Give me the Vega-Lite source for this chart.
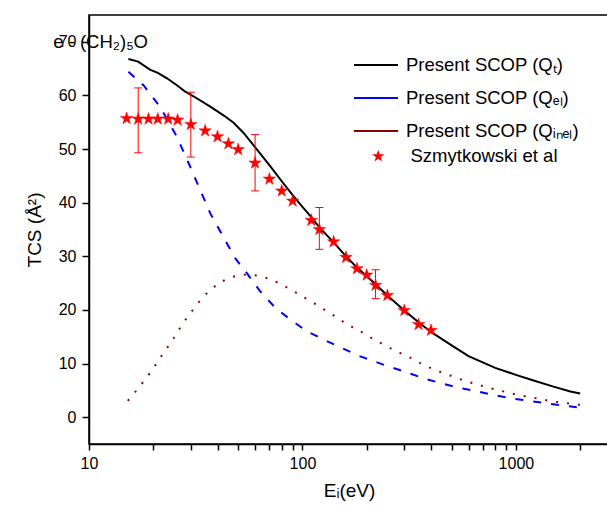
{
  "$schema": "https://vega.github.io/schema/vega-lite/v6.json",
  "width": 520,
  "height": 429,
  "autosize": "none",
  "padding": {"left": 89, "top": 15, "right": 0, "bottom": 63},
  "background": "white",
  "config": {
    "font": "Liberation Sans",
    "view": {"stroke": "#000000", "strokeWidth": 1.5},
    "axis": {"grid": false, "domainColor": "#000000", "tickColor": "#000000", "labelColor": "#000000", "titleColor": "#000000", "domainWidth": 1.5, "tickWidth": 1.5, "labelFontSize": 16, "titleFontSize": 19, "titleFontWeight": "normal"},
    "legend": {"labelColor": "#000000"}
  },
  "title": {"text": "e - (CH₂)₅O", "anchor": "start", "offset": -36, "dx": 28, "fontSize": 18.5, "fontWeight": "normal", "color": "#000000"},
  "layer": [
    {
      "data": {"values": [
        {"energy": 15.3, "cs": 66.8}, {"energy": 17, "cs": 66.3}, {"energy": 19.3, "cs": 64.8}, {"energy": 21, "cs": 64.2},
        {"energy": 23.2, "cs": 63.2}, {"energy": 26, "cs": 61.8}, {"energy": 28, "cs": 60.8}, {"energy": 31, "cs": 59.8},
        {"energy": 37, "cs": 57.9}, {"energy": 43, "cs": 56.2}, {"energy": 47.6, "cs": 54.9}, {"energy": 53, "cs": 53.0},
        {"energy": 61, "cs": 50.0}, {"energy": 70, "cs": 47.0}, {"energy": 80, "cs": 44.0}, {"energy": 90, "cs": 41.4},
        {"energy": 100, "cs": 39.2}, {"energy": 110, "cs": 37.3}, {"energy": 120, "cs": 35.4}, {"energy": 140, "cs": 32.6},
        {"energy": 160, "cs": 30.0}, {"energy": 180, "cs": 27.9}, {"energy": 200, "cs": 26.3}, {"energy": 220, "cs": 24.8},
        {"energy": 250, "cs": 22.7}, {"energy": 300, "cs": 19.9}, {"energy": 350, "cs": 17.7}, {"energy": 400, "cs": 15.9},
        {"energy": 500, "cs": 13.4}, {"energy": 600, "cs": 11.4}, {"energy": 800, "cs": 9.2}, {"energy": 1000, "cs": 7.9},
        {"energy": 1200, "cs": 6.9}, {"energy": 1500, "cs": 5.7}, {"energy": 1800, "cs": 4.8}, {"energy": 2000, "cs": 4.4}
      ]},
      "mark": {"type": "line", "strokeWidth": 2},
      "encoding": {
        "x": {
          "field": "energy", "type": "quantitative",
          "title": "Eᵢ(eV)",
          "scale": {"type": "log", "domain": [10, 2730], "nice": false},
          "axis": {
            "values": [10, 20, 30, 40, 50, 60, 70, 80, 90, 100, 200, 300, 400, 500, 600, 700, 800, 900, 1000, 2000],
            "format": "d",
            "labelExpr": "datum.value == 10 || datum.value == 100 || datum.value == 1000 ? datum.label : ''",
            "tickSize": 6, "labelPadding": 5, "labelFlush": false, "labelOverlap": false, "titlePadding": 10
          }
        },
        "y": {
          "field": "cs", "type": "quantitative",
          "title": "TCS (Å²)",
          "scale": {"domain": [-5, 75], "nice": false, "zero": false},
          "axis": {"values": [0, 10, 20, 30, 40, 50, 60, 70], "tickSize": 7, "labelPadding": 6, "titlePadding": 14}
        },
        "color": {
          "datum": "Present SCOP (Qₜ)",
          "scale": {"domain": ["Present SCOP (Qₜ)", "Present SCOP (Qₑₗ)", "Present SCOP (Qᵢₙₑₗ)"], "range": ["#000000", "#0000ff", "#8b0000"]},
          "legend": {"orient": "none", "legendX": 264, "legendY": 27, "title": null, "symbolType": "stroke", "symbolSize": 1936, "symbolStrokeWidth": 2, "labelFontSize": 18.5, "labelOffset": 7, "rowPadding": -14, "padding": 0, "labelLimit": 300}
        }
      }
    },
    {
      "data": {"values": [
        {"energy": 15.3, "cs": 64.4}, {"energy": 18, "cs": 61.9}, {"energy": 21.5, "cs": 57.9}, {"energy": 25.8, "cs": 52.3},
        {"energy": 29.8, "cs": 46.7}, {"energy": 33, "cs": 42.6}, {"energy": 37, "cs": 38.0}, {"energy": 44.3, "cs": 32.4},
        {"energy": 48.5, "cs": 29.6}, {"energy": 55, "cs": 26.8}, {"energy": 63, "cs": 23.6}, {"energy": 75, "cs": 20.3},
        {"energy": 90, "cs": 17.9}, {"energy": 105, "cs": 16.0}, {"energy": 130, "cs": 14.2}, {"energy": 155, "cs": 12.8},
        {"energy": 185, "cs": 11.4}, {"energy": 245, "cs": 9.65}, {"energy": 300, "cs": 8.5}, {"energy": 363, "cs": 7.35},
        {"energy": 443, "cs": 6.35}, {"energy": 541, "cs": 5.5}, {"energy": 660, "cs": 4.8}, {"energy": 804, "cs": 4.05},
        {"energy": 982, "cs": 3.4}, {"energy": 1180, "cs": 3.0}, {"energy": 1435, "cs": 2.5}, {"energy": 1750, "cs": 2.05},
        {"energy": 2000, "cs": 1.8}
      ]},
      "mark": {"type": "line", "strokeWidth": 2, "strokeDash": [8, 10]},
      "encoding": {
        "x": {"field": "energy", "type": "quantitative", "title": "Eᵢ(eV)"},
        "y": {"field": "cs", "type": "quantitative", "title": "TCS (Å²)"},
        "color": {"datum": "Present SCOP (Qₑₗ)"}
      }
    },
    {
      "data": {"values": [
        {"energy": 15.2, "cs": 3.06}, {"energy": 16.7, "cs": 5.0}, {"energy": 18.4, "cs": 7.1}, {"energy": 20, "cs": 9.1},
        {"energy": 21.6, "cs": 11.1}, {"energy": 23.4, "cs": 13.1}, {"energy": 25.3, "cs": 15.1}, {"energy": 27.2, "cs": 17.2},
        {"energy": 29.6, "cs": 19.2}, {"energy": 32.3, "cs": 21.2}, {"energy": 35.8, "cs": 23.2}, {"energy": 40.2, "cs": 24.9},
        {"energy": 45.3, "cs": 26.0}, {"energy": 50.8, "cs": 26.5}, {"energy": 57, "cs": 26.6}, {"energy": 64.2, "cs": 26.3},
        {"energy": 72.1, "cs": 25.6}, {"energy": 81.2, "cs": 24.6}, {"energy": 91, "cs": 23.5}, {"energy": 102, "cs": 22.3},
        {"energy": 115, "cs": 21.1}, {"energy": 129.7, "cs": 19.8}, {"energy": 145, "cs": 18.6}, {"energy": 163, "cs": 17.2},
        {"energy": 184, "cs": 16.2}, {"energy": 207, "cs": 14.9}, {"energy": 233, "cs": 13.8}, {"energy": 260, "cs": 12.8},
        {"energy": 293, "cs": 11.8}, {"energy": 328, "cs": 10.9}, {"energy": 367, "cs": 9.8}, {"energy": 412, "cs": 8.9},
        {"energy": 462, "cs": 8.2}, {"energy": 520, "cs": 7.4}, {"energy": 586, "cs": 6.7}, {"energy": 660, "cs": 6.1},
        {"energy": 740, "cs": 5.5}, {"energy": 835, "cs": 5.0}, {"energy": 935, "cs": 4.5}, {"energy": 1054, "cs": 4.05},
        {"energy": 1183, "cs": 3.7}, {"energy": 1332, "cs": 3.3}, {"energy": 1498, "cs": 2.9}, {"energy": 1690, "cs": 2.7},
        {"energy": 1880, "cs": 2.4}, {"energy": 2000, "cs": 2.3}
      ]},
      "mark": {"type": "line", "strokeWidth": 2, "strokeDash": [2, 9]},
      "encoding": {
        "x": {"field": "energy", "type": "quantitative", "title": "Eᵢ(eV)"},
        "y": {"field": "cs", "type": "quantitative", "title": "TCS (Å²)"},
        "color": {"datum": "Present SCOP (Qᵢₙₑₗ)"}
      }
    },
    {
      "data": {"values": [
        {"energy": 17, "lo": 49.3, "hi": 61.4},
        {"energy": 30, "lo": 48.5, "hi": 60.6},
        {"energy": 60, "lo": 42.2, "hi": 52.7},
        {"energy": 120, "lo": 31.3, "hi": 39.1},
        {"energy": 220, "lo": 22.1, "hi": 27.5}
      ]},
      "layer": [
        {
          "mark": {"type": "rule", "color": "#ff0000", "strokeWidth": 1},
          "encoding": {
            "x": {"field": "energy", "type": "quantitative", "title": "Eᵢ(eV)"},
            "y": {"field": "lo", "type": "quantitative", "title": "TCS (Å²)"},
            "y2": {"field": "hi"}
          }
        },
        {
          "mark": {"type": "point", "shape": "stroke", "filled": false, "color": "#ff0000", "strokeWidth": 1, "size": 64, "opacity": 1},
          "encoding": {
            "x": {"field": "energy", "type": "quantitative", "title": "Eᵢ(eV)"},
            "y": {"field": "lo", "type": "quantitative", "title": "TCS (Å²)"}
          }
        },
        {
          "mark": {"type": "point", "shape": "stroke", "filled": false, "color": "#ff0000", "strokeWidth": 1, "size": 64, "opacity": 1},
          "encoding": {
            "x": {"field": "energy", "type": "quantitative", "title": "Eᵢ(eV)"},
            "y": {"field": "hi", "type": "quantitative", "title": "TCS (Å²)"}
          }
        }
      ]
    },
    {
      "data": {"values": [
        {"energy": 15, "cs": 55.7}, {"energy": 17, "cs": 55.6}, {"energy": 19, "cs": 55.6}, {"energy": 21, "cs": 55.6},
        {"energy": 23.5, "cs": 55.6}, {"energy": 26, "cs": 55.4}, {"energy": 30, "cs": 54.6}, {"energy": 35, "cs": 53.4},
        {"energy": 40, "cs": 52.3}, {"energy": 45, "cs": 51.0}, {"energy": 50, "cs": 49.9}, {"energy": 60, "cs": 47.4},
        {"energy": 70, "cs": 44.4}, {"energy": 80, "cs": 42.2}, {"energy": 90, "cs": 40.3}, {"energy": 110, "cs": 36.7},
        {"energy": 120, "cs": 35.0}, {"energy": 140, "cs": 32.7}, {"energy": 160, "cs": 29.8}, {"energy": 180, "cs": 27.7},
        {"energy": 200, "cs": 26.5}, {"energy": 220, "cs": 24.6}, {"energy": 250, "cs": 22.7}, {"energy": 300, "cs": 19.9},
        {"energy": 350, "cs": 17.3}, {"energy": 400, "cs": 16.2}
      ]},
      "mark": {"type": "point", "filled": false, "fill": "#ff0000", "stroke": "#ff0000", "strokeWidth": 0.5, "size": 170, "opacity": 1},
      "encoding": {
        "x": {"field": "energy", "type": "quantitative", "title": "Eᵢ(eV)"},
        "y": {"field": "cs", "type": "quantitative", "title": "TCS (Å²)"},
        "shape": {
          "datum": "Szmytkowski et al",
          "scale": {"range": ["M0,-1L0.2245,-0.309L0.9511,-0.309L0.3633,0.118L0.5878,0.809L0,0.382L-0.5878,0.809L-0.3633,0.118L-0.9511,-0.309L-0.2245,-0.309Z"]},
          "legend": {"orient": "none", "legendX": 280, "legendY": 132, "title": null, "symbolSize": 170, "symbolFillColor": "#ff0000", "symbolStrokeColor": "#ff0000", "labelFontSize": 18.5, "labelOffset": 23, "padding": 0}
        }
      }
    }
  ]
}
